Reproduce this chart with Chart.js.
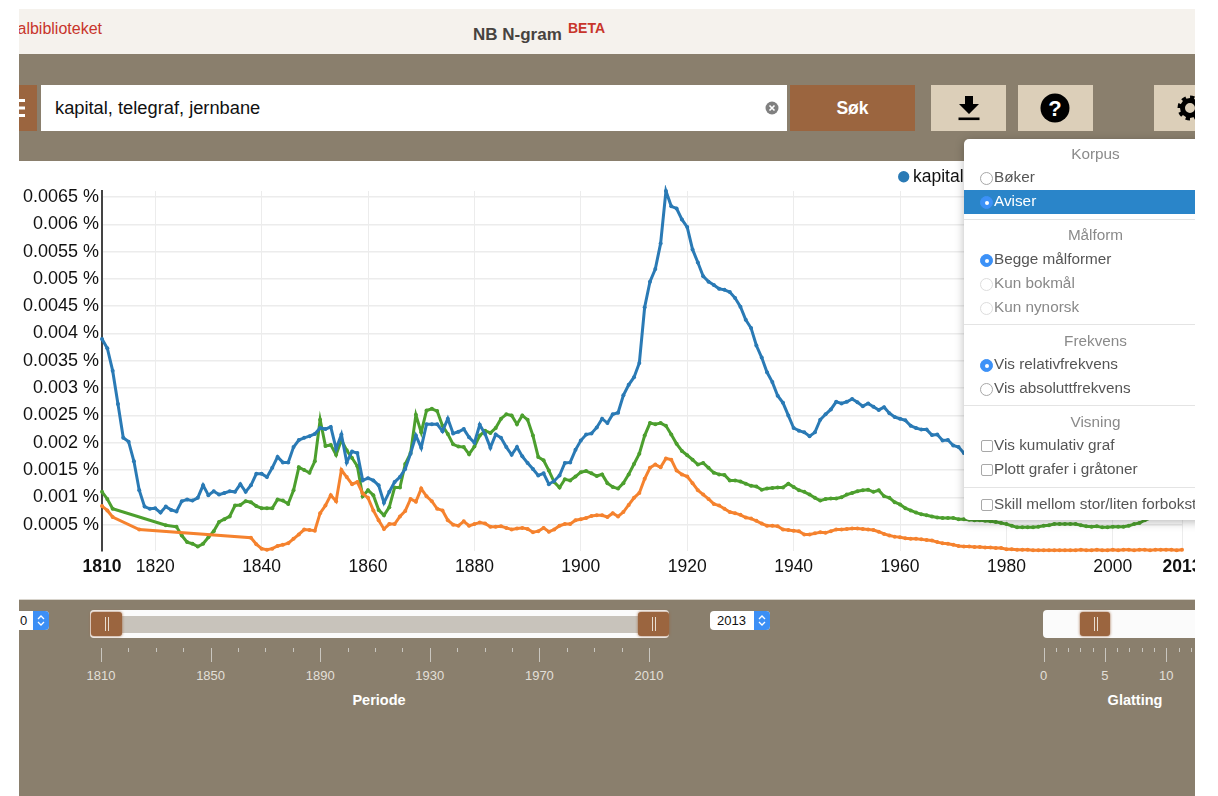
<!DOCTYPE html>
<html lang="no">
<head>
<meta charset="utf-8">
<title>NB N-gram</title>
<script src="https://cdn.jsdelivr.net/npm/chart.js@4"></script>
<style>
    html, body { margin: 0; padding: 0; background: #fff; }
    body { width: 1218px; height: 796px; overflow: hidden; font-family: "Liberation Sans", Arial, sans-serif; }
    #frame { position: absolute; left: 19px; top: 9px; width: 1176px; height: 787px; overflow: hidden; background: #fff; }
    #frame > * { position: absolute; }
    /* alle posisjoner under er i forhold til siden, minus rammen */
    .abs { position: absolute; }
    #header { left: 0; top: 0; width: 1176px; height: 45px; background: #f5f2ed; }
    #band { left: 0; top: 45px; width: 1176px; height: 107px; background: #8a7f6d; z-index: 2; }
    #bottom { left: 0; top: 590px; width: 1176px; height: 197px; background: #8a7f6d; border-top: 1px solid #d8d4cc; box-sizing: border-box; }
    #chartBox { left: 0; top: 147px; }
    #logo { right: 1093px; top: 11px; color: #c8352b; font-size: 16px; white-space: nowrap; }
    #title { left: 454px; top: 16px; color: #47433f; font-size: 17px; font-weight: bold; white-space: nowrap; }
    #beta { left: 549px; top: 11px; color: #c8352b; font-size: 14px; font-weight: bold; }
    .btn { top: 76px; height: 46px; background: #dccfb9; z-index: 3; }
    #menuBtn { left: 0; width: 18px; background: #9b653f; }
    #search { left: 22px; top: 76px; width: 746px; height: 46px; background: #fff; z-index: 3; color: #111; font-size: 18.3px; line-height: 46px; text-indent: 14px; }
    #sok { left: 771px; width: 125px; background: #9b653f; color: #fff; font-weight: bold; font-size: 17.5px; line-height: 46px; text-align: center; }
    #dl { left: 912px; width: 75px; }
    #help { left: 999px; width: 75px; }
    #gear { left: 1135px; width: 60px; }
    .btn svg, #search svg { position: absolute; }
    #popup { left: 945px; top: 130px; width: 260px; height: 381px; background: #fff; border-radius: 5px; box-shadow: 0 2px 10px rgba(0,0,0,0.28); z-index: 4; color: #555; font-size: 15.3px; }
    #popup .row { position: absolute; left: 30px; white-space: nowrap; line-height: 18px; height: 18px; }
    #popup .head { position: absolute; left: 0; width: 263px; text-align: center; color: #8a8a8a; line-height: 18px; }
    #popup .sep { position: absolute; left: 0; width: 260px; height: 1px; background: #e4e4e4; }
    #popup .hl { position: absolute; left: 0; top: 51px; width: 260px; height: 24px; background: #2a85c9; }
    #popup .mark { position: absolute; box-sizing: border-box; left: 16px; width: 13px; height: 13px; background: #fff; border: 1px solid #a8a8a8; }
    #popup .radio { border-radius: 50%; }
    #popup .box { border-radius: 2px; width: 12px; height: 12px; left: 17px; }
    #popup .off { border-color: #ddd; }
    #popup .on { background: #3c91f7; border-color: #3c91f7; }
    #popup .on::after { content: ""; position: absolute; left: 3.5px; top: 3.5px; width: 4px; height: 4px; border-radius: 50%; background: #fff; }
    .select { top: 602px; height: 19px; background: #fff; border-radius: 4px; overflow: hidden; font-size: 13px; line-height: 19px; color: #111; }
    .select i { position: absolute; right: 0; top: 0; width: 16px; height: 19px; background: #3c8ff5; }
    .select svg { position: absolute; right: 3px; top: 3px; }
    .track { top: 601px; height: 28px; background: #fbfbfb; border-radius: 4px; }
    .fill { top: 607px; height: 17px; background: #c8c3bb; }
    .handle { top: 603px; width: 31px; height: 24px; background: #9b653f; border-radius: 3px; box-shadow: 0 0 3px #9b653f; }
    .handle::after { content: ""; position: absolute; left: 14px; top: 5px; width: 2px; height: 14px; border-left: 1px solid #e8ddd0; border-right: 1px solid #e8ddd0; }
    .tick { background: #c9c6bf; width: 1px; }
    .sliderLabel { color: #e2dfd8; font-size: 13px; transform: translateX(-50%); white-space: nowrap; }
    .sliderTitle { color: #fff; font-size: 14.5px; font-weight: bold; transform: translateX(-50%); white-space: nowrap; }
</style>
</head>
<body>
<div id="frame">
    <div id="header"></div>
    <div id="logo">Nasjonalbiblioteket</div>
    <div id="title">NB N-gram</div>
    <div id="beta">BETA</div>
    <div id="band"></div>
    <div id="chartBox"><canvas id="ngramChart" width="1176" height="443"></canvas></div>
    <div id="bottom"></div>

    <div class="btn" id="menuBtn">
        <svg width="18" height="46"><path d="M0 14h6v3H0zM0 21.500h6v3H0zM0 29h6v3H0z" fill="#fff"/></svg>
    </div>
    <div id="search">kapital, telegraf, jernbane
        <svg style="left:724px;top:16px" width="14" height="14"><circle cx="7" cy="7" r="6.500" fill="#808080"/><path d="M4.500 4.500l5 5M9.500 4.500l-5 5" stroke="#fff" stroke-width="1.600"/></svg>
    </div>
    <div class="btn" id="sok">Søk</div>
    <div class="btn" id="dl">
        <svg style="left:26px;top:10px" width="24" height="27"><path d="M8 1h8v8h6L12 19 2 9h6z" fill="#000"/><rect x="1.500" y="22.500" width="21" height="2.600" fill="#000"/></svg>
    </div>
    <div class="btn" id="help">
        <svg style="left:22px;top:8px" width="30" height="30"><circle cx="15" cy="15" r="14.500" fill="#000"/><text x="15" y="22.500" text-anchor="middle" font-size="22" font-weight="bold" fill="#fff" font-family="Liberation Sans">?</text></svg>
    </div>
    <div class="btn" id="gear">
        <svg style="left:22px;top:10px" width="28" height="26"><circle cx="14" cy="13" r="7.500" fill="none" stroke="#000" stroke-width="5"/><circle cx="14" cy="13" r="10.500" fill="none" stroke="#000" stroke-width="4" stroke-dasharray="4.200 4"/></svg>
    </div>

    <div id="popup"></div>

    <div class="abs select" style="left:-11px;width:41px;text-indent:12px">0<i></i><svg width="10" height="13"><path d="M2 5l3-3 3 3M2 8l3 3 3-3" fill="none" stroke="#fff" stroke-width="1.300"/></svg></div>
    <div class="abs select" style="left:691px;width:60px;text-indent:7px">2013<i></i><svg width="10" height="13"><path d="M2 5l3-3 3 3M2 8l3 3 3-3" fill="none" stroke="#fff" stroke-width="1.300"/></svg></div>
    <div class="abs track" style="left:71px;width:579px"></div>
    <div class="abs fill" style="left:100px;width:520px"></div>
    <div class="abs handle" style="left:72px"></div>
    <div class="abs handle" style="left:619px"></div>
    <div class="abs track" style="left:1024px;width:170px"></div>
    <div class="abs handle" style="left:1061px;width:30px"></div>
</div>

<script>
// årstall: første verdi er 1810, en verdi per år
const firstYear = 1810;

// verdiene er i tusendels prosent (3.90 = 0.0039 %), null = ingen treff det året
const kapital = [
    3.90, 3.73, 3.32, 2.71, 2.09, 2.02, 1.66, 1.13, 0.83, 0.79,
    0.80, 0.72, 0.83, 0.77, 0.74, 0.93, 0.96, 0.94, 0.99, 1.22,
    1.04, 1.11, 1.05, 1.08, 1.11, 1.10, 1.24, 1.10, 1.22, 1.43,
    1.43, 1.37, 1.54, 1.74, 1.64, 1.64, 1.92, 2.05, 2.09, 2.12,
    2.16, 2.27, 2.25, 2.29, 1.89, 2.15, 1.64, 1.84, 1.81, 1.31,
    1.35, 1.31, 1.22, 0.90, 1.10, 1.28, 1.37, 1.52, 1.80, 2.13,
    1.91, 2.34, 2.34, 2.34, 2.21, 2.44, 2.17, 2.20, 2.25, 2.10,
    2.00, 2.33, 2.16, 1.91, 2.15, 2.09, 1.92, 1.78, 1.92, 1.75,
    1.63, 1.52, 1.40, 1.44, 1.24, 1.30, 1.40, 1.63, 1.64, 1.87,
    2.04, 2.15, 2.17, 2.28, 2.44, 2.36, 2.52, 2.55, 2.87, 3.06,
    3.20, 3.46, 4.48, 4.95, 5.18, 5.65, 6.61, 6.33, 6.29, 6.09,
    5.95, 5.54, 5.30, 5.05, 4.95, 4.89, 4.82, 4.80, 4.76, 4.65,
    4.49, 4.25, 4.10, 3.78, 3.56, 3.29, 3.11, 2.86, 2.73, 2.50,
    2.27, 2.22, 2.19, 2.12, 2.19, 2.42, 2.52, 2.61, 2.75, 2.72,
    2.75, 2.80, 2.74, 2.67, 2.72, 2.66, 2.60, 2.65, 2.54, 2.47,
    2.44, 2.41, 2.31, 2.27, 2.24, 2.24, 2.14, 2.15, 2.04, 2.05,
    1.95, 1.92, 1.81, 1.78
];

const telegraf = [
    0.84, 0.76, 0.64, null, null, null, null, 0.41, null, null,
    null, null, null, null, null, null, null, null, null, null,
    null, null, null, null, null, null, null, null, 0.26, 0.14,
    0.06, 0.04, 0.06, 0.11, 0.13, 0.16, 0.24, 0.32, 0.41, 0.40,
    0.39, 0.71, 0.85, 1.04, 0.93, 1.50, 1.37, 1.24, 1.28, 1.07,
    0.99, 0.76, 0.58, 0.42, 0.51, 0.51, 0.65, 0.75, 0.97, 0.92,
    1.16, 1.02, 0.93, 0.79, 0.76, 0.58, 0.50, 0.48, 0.56, 0.48,
    0.51, 0.54, 0.52, 0.46, 0.46, 0.47, 0.44, 0.41, 0.43, 0.44,
    0.42, 0.36, 0.38, 0.44, 0.37, 0.41, 0.48, 0.51, 0.51, 0.58,
    0.60, 0.62, 0.66, 0.67, 0.67, 0.64, 0.71, 0.65, 0.73, 0.86,
    0.99, 1.08, 1.34, 1.54, 1.60, 1.55, 1.71, 1.69, 1.49, 1.42,
    1.38, 1.26, 1.13, 1.05, 0.97, 0.88, 0.85, 0.79, 0.73, 0.71,
    0.68, 0.63, 0.61, 0.57, 0.52, 0.48, 0.48, 0.47, 0.41, 0.40,
    0.39, 0.38, 0.32, 0.32, 0.34, 0.36, 0.35, 0.38, 0.41, 0.41,
    0.42, 0.43, 0.43, 0.42, 0.41, 0.40, 0.37, 0.33, 0.30, 0.28,
    0.27, 0.25, 0.24, 0.24, 0.23, 0.22, 0.21, 0.18, 0.16, 0.15,
    0.13, 0.11, 0.10, 0.10, 0.09, 0.09, 0.08, 0.08, 0.07, 0.07,
    0.05, 0.05, 0.04, 0.04, 0.04, 0.03, 0.03, 0.03, 0.03, 0.03,
    0.03, 0.03, 0.03, 0.03, 0.04, 0.03, 0.03, 0.04, 0.03, 0.03,
    0.04, 0.03, 0.04, 0.04, 0.03, 0.04, 0.04, 0.03, 0.04, 0.04,
    0.04, 0.04, 0.03, 0.04
];

const jernbane = [
    1.10, 0.97, 0.79, null, null, null, null, null, null, null,
    null, null, 0.49, null, 0.46, 0.30, 0.18, 0.15, 0.10, 0.15,
    0.27, 0.38, 0.55, 0.60, 0.65, 0.85, 0.86, 0.93, 0.91, 0.84,
    0.80, 0.80, 0.80, 0.96, 0.94, 0.88, 1.13, 1.55, 1.50, 1.45,
    1.66, 2.42, 1.94, 1.96, 1.78, 2.05, 1.86, 1.72, 1.57, 1.02,
    1.13, 1.04, 0.77, 0.67, 0.82, 1.18, 1.18, 1.61, 1.81, 2.51,
    2.19, 2.59, 2.62, 2.58, 2.31, 2.16, 1.97, 1.93, 1.92, 1.79,
    1.93, 2.13, 2.22, 2.18, 2.27, 2.44, 2.52, 2.50, 2.34, 2.50,
    2.42, 2.13, 1.74, 1.68, 1.49, 1.28, 1.18, 1.33, 1.31, 1.38,
    1.46, 1.48, 1.44, 1.39, 1.42, 1.26, 1.19, 1.16, 1.26, 1.42,
    1.61, 1.80, 2.13, 2.36, 2.34, 2.36, 2.31, 2.15, 1.98, 1.85,
    1.77, 1.69, 1.60, 1.63, 1.54, 1.45, 1.42, 1.41, 1.31, 1.31,
    1.29, 1.25, 1.21, 1.20, 1.14, 1.16, 1.17, 1.18, 1.18, 1.25,
    1.19, 1.13, 1.10, 1.05, 0.99, 0.94, 0.97, 0.98, 0.98, 1.00,
    1.05, 1.08, 1.11, 1.13, 1.14, 1.10, 1.13, 1.02, 0.99, 0.91,
    0.87, 0.80, 0.76, 0.72, 0.69, 0.67, 0.65, 0.63, 0.62, 0.62,
    0.62, 0.60, 0.60, 0.59, 0.58, 0.58, 0.57, 0.56, 0.55, 0.53,
    0.51, 0.48, 0.45, 0.45, 0.45, 0.45, 0.46, 0.48, 0.49, 0.51,
    0.51, 0.51, 0.51, 0.51, 0.49, 0.47, 0.46, 0.47, 0.45, 0.45,
    0.46, 0.46, 0.46, 0.48, 0.51, 0.53, 0.58, 0.62
];

const xTicks = [1810, 1820, 1840, 1860, 1880, 1900, 1920, 1940, 1960, 1980, 2000, 2013];
const boldYears = [1810, 2013];
const yTicks = [0.5, 1, 1.5, 2, 2.5, 3, 3.5, 4, 4.5, 5, 5.5, 6, 6.5];
const yTickLabels = ['0.0005 %', '0.001 %', '0.0015 %', '0.002 %', '0.0025 %', '0.003 %', '0.0035 %',
    '0.004 %', '0.0045 %', '0.005 %', '0.0055 %', '0.006 %', '0.0065 %'];

const periodLabels = ['1810', '1850', '1890', '1930', '1970', '2010'];
const smoothLabels = ['0', '5', '10'];

document.addEventListener('DOMContentLoaded', () => {
    const frame = document.getElementById('frame');

    function toPoints(values) {
        return values.map((v, i) => ({ x: firstYear + i, y: v }));
    }

    function series(label, values, color) {
        return {
            label: label,
            data: toPoints(values),
            borderColor: color,
            backgroundColor: color,
            pointBackgroundColor: color,
            pointBorderWidth: 0,
            borderWidth: 3,
            pointRadius: 2,
            tension: 0,
            spanGaps: true,
            clip: 6
        };
    }

    // legenden skal slutte lenger inn enn plottet, og ligge litt lavere
    const legendShift = {
        id: 'legendShift',
        afterLayout(chart) {
            chart.legend.right = 1108.5;
            chart.legend.top += 4.5;
        }
    };

    new Chart(document.getElementById('ngramChart').getContext('2d'), {
        type: 'line',
        plugins: [legendShift],
        data: {
            datasets: [
                series('kapital', kapital, '#2a7ab5'),
                series('telegraf', telegraf, '#f5822e'),
                series('jernbane', jernbane, '#4c9f2e')
            ]
        },
        options: {
            responsive: false,
            animation: false,
            layout: { padding: { top: 1.5, right: 13 } },
            plugins: {
                tooltip: { enabled: false },
                legend: {
                    align: 'end',
                    labels: {
                        usePointStyle: true,
                        pointStyle: 'circle',
                        boxWidth: 1,
                        boxHeight: 8,
                        padding: 6,
                        color: '#111',
                        font: { family: 'Liberation Sans', size: 17.5 }
                    }
                }
            },
            scales: {
                x: {
                    type: 'linear',
                    min: 1810,
                    max: 2013,
                    afterFit(scale) {
                        scale.height = 48;
                        scale.paddingRight = 0;
                    },
                    afterBuildTicks(scale) { scale.ticks = xTicks.map(v => ({ value: v })); },
                    border: { display: false },
                    grid: { color: '#ececec', lineWidth: 1, drawTicks: false },
                    ticks: {
                        autoSkip: false,
                        maxRotation: 0,
                        padding: 6,
                        color: '#111',
                        callback: v => String(v),
                        font: ctx => ({
                            family: 'Liberation Sans',
                            size: 17.5,
                            weight: ctx.tick && boldYears.includes(ctx.tick.value) ? 'bold' : 'normal'
                        })
                    }
                },
                y: {
                    min: 0.017,
                    max: 6.61,
                    afterFit(scale) { scale.width = 83; },
                    afterBuildTicks(scale) { scale.ticks = yTicks.map(v => ({ value: v })); },
                    border: { color: '#444', width: 2 },
                    grid: { color: '#ececec', lineWidth: 1.5, drawTicks: false },
                    ticks: {
                        autoSkip: false,
                        padding: 3,
                        color: '#111',
                        font: { family: 'Liberation Sans', size: 18 },
                        callback: v => yTickLabels[yTicks.indexOf(v)]
                    }
                }
            }
        }
    });

    // innstillingsmenyen
    const popup = document.getElementById('popup');
    popup.innerHTML = '<div class="hl"></div>';
    const popY = 139;
    const heads = [['Korpus', 154], ['Målform', 235], ['Frekvens', 341], ['Visning', 422]];
    heads.forEach(h => {
        popup.insertAdjacentHTML('beforeend', `<div class="head" style="top:${h[1] - popY - 9}px">${h[0]}</div>`);
    });
    [219, 324, 405, 487].forEach(y => {
        popup.insertAdjacentHTML('beforeend', `<div class="sep" style="top:${y - popY}px"></div>`);
    });
    const rows = [
        ['Bøker', 177, 'radio', ''],
        ['Aviser', 201, 'radio on', 'color:#fff'],
        ['Begge målformer', 259, 'radio on', ''],
        ['Kun bokmål', 283, 'radio off', 'color:#888'],
        ['Kun nynorsk', 307, 'radio off', 'color:#888'],
        ['Vis relativfrekvens', 364, 'radio on', ''],
        ['Vis absoluttfrekvens', 388, 'radio', ''],
        ['Vis kumulativ graf', 445, 'box', ''],
        ['Plott grafer i gråtoner', 469, 'box', ''],
        ['Skill mellom stor/liten forbokstav', 504, 'box', '']
    ];
    rows.forEach(r => {
        const top = r[1] - popY;
        popup.insertAdjacentHTML('beforeend',
            `<div class="mark ${r[2]}" style="top:${top - 5}px"></div>` +
            `<div class="row" style="top:${top - 9}px;${r[3]}">${r[0]}</div>`);
    });

    // skyvere med merker
    function addTick(x, h) {
        const t = document.createElement('div');
        t.className = 'abs tick';
        t.style.cssText = `left:${x - 19}px;top:${648 - 9}px;height:${h}px`;
        frame.appendChild(t);
    }
    function addText(cls, text, x, y) {
        const t = document.createElement('div');
        t.className = 'abs ' + cls;
        t.textContent = text;
        t.style.left = (x - 19) + 'px';
        t.style.top = (y - 9) + 'px';
        frame.appendChild(t);
    }
    const periodStep = 109.6;
    periodLabels.forEach((label, i) => {
        const x = 101 + i * periodStep;
        addTick(x, 14);
        addText('sliderLabel', label, x, 668);
        if (i < periodLabels.length - 1) {
            [1, 2, 3].forEach(k => addTick(x + k * periodStep / 4, 4));
        }
    });
    addText('sliderTitle', 'Periode', 379, 692);

    const smoothStep = 61.4;
    for (let i = 0; i < 3; i++) {
        const x = 1043.5 + i * smoothStep;
        addTick(x, 14);
        addText('sliderLabel', smoothLabels[i], x, 668);
        [1, 2, 3, 4].forEach(k => addTick(x + k * smoothStep / 5, 4));
    }
    addText('sliderTitle', 'Glatting', 1135, 692);
});
</script>
</body>
</html>
